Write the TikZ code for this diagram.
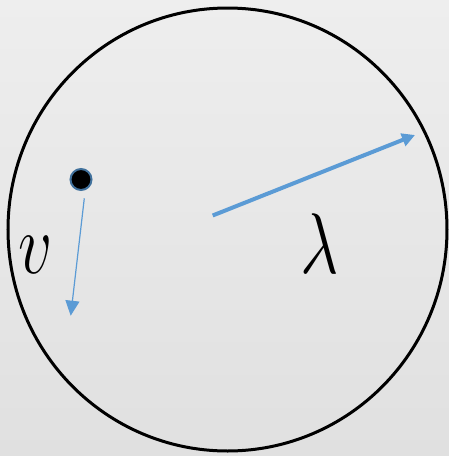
\documentclass[tikz,border=0pt]{standalone}
\usepackage{tikz}
\usetikzlibrary{arrows.meta, positioning}
\usepackage{xcolor}
\usepackage{amsmath, amssymb}
\usepackage{graphicx}
\definecolor{bgtop}{RGB}{238,238,238}
\definecolor{bgbot}{RGB}{224,224,224}
\definecolor{arrowblue}{RGB}{91,155,213}
\definecolor{dotrim}{RGB}{65,113,156}
\newcommand{\biglet}[1]{\scalebox{2.7}[3.46]{\Huge$#1$}}

\begin{document}
\begin{tikzpicture}[x=1pt, y=-1pt,
    biglabel/.style={inner sep=0pt}]
  % fond dégradé et cadre
  \shade[top color=bgtop, bottom color=bgbot] (0,0) rectangle (449,456);
  \useasboundingbox (0,0) rectangle (449,456);
  % domaine
  \draw[line width=3pt] (227.5,229.5) ellipse [x radius=219.5, y radius=221.5];
  % particule et sa vitesse
  \node[circle, fill=black, draw=dotrim, line width=2pt, minimum size=21pt, inner sep=0pt] (dot) at (81,179.5) {};
  \coordinate (vstart) at (84.3,198.3);
  \coordinate (vend) at (70.7,315.7);
  \draw[-{Triangle[length=15pt, width=14pt]}, arrowblue, line width=1.2pt] (vstart) -- (vend);
  \node[biglabel] (v) at (36,254.5) {\biglet{v}};
  % libre parcours moyen
  \coordinate (lstart) at (212.7,215.5);
  \coordinate (lend) at (415,135);
  \draw[-{Triangle[length=13pt, width=13pt]}, arrowblue, line width=4pt] (lstart) -- (lend);
  \node[biglabel] (lambda) at (320,244) {\biglet{\lambda}};
\end{tikzpicture}
\end{document}
